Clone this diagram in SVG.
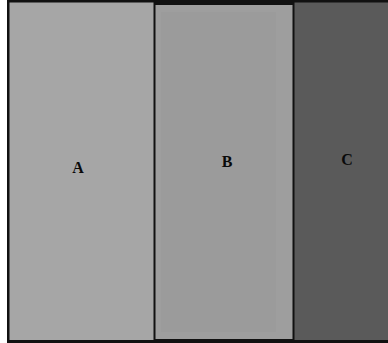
<svg xmlns="http://www.w3.org/2000/svg" width="388" height="343" viewBox="0 0 388 343">
<style>
.lbl{font-family:"Liberation Serif","DejaVu Serif",serif;font-size:16px;font-weight:bold;fill:#0a0a0a;text-anchor:middle}
</style>
<rect x="0" y="0" width="388" height="343" fill="#ffffff"/>
<rect x="7" y="0" width="381" height="343" fill="#111"/>
<g id="panelA">
<rect x="9.5" y="2.5" width="144" height="337.5" fill="#a6a6a6"/>
<text class="lbl" x="78" y="173">A</text>
</g>
<g id="panelB">
<rect x="155.5" y="5" width="137" height="334" fill="#9e9e9e"/>
<rect x="161" y="12" width="115" height="320" fill="#9b9b9b"/>
<text class="lbl" x="227" y="167">B</text>
</g>
<g id="panelC">
<rect x="294.5" y="2.5" width="93.5" height="337.5" fill="#5a5a5a"/>
<text class="lbl" x="347" y="165">C</text>
</g>
</svg>
